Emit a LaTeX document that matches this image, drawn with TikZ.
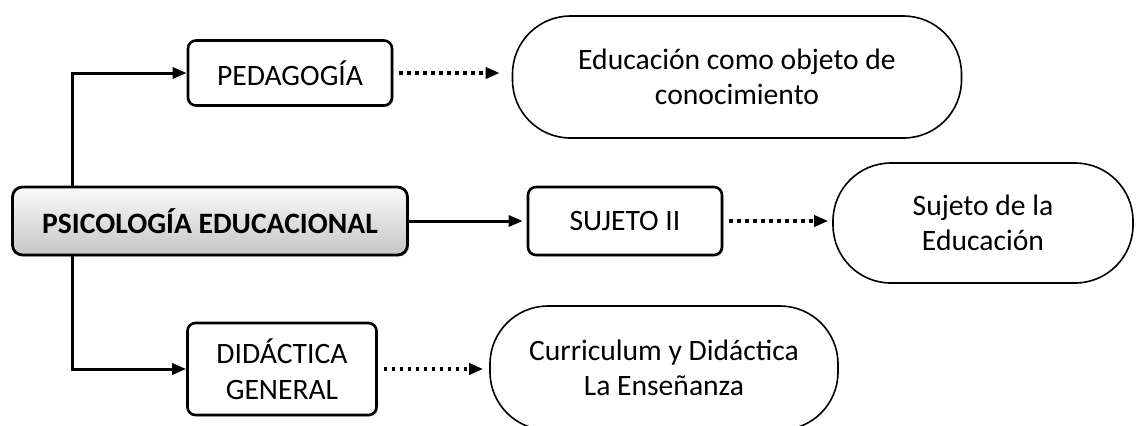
\documentclass[tikz,border=0pt]{standalone}
\usepackage{fontspec}
\setmainfont{Carlito}
\usetikzlibrary{arrows.meta,shadows}
\begin{document}
\begin{tikzpicture}[x=0.5pt,y=-0.5pt,
  font=\fontsize{14.8}{17.8}\selectfont,
  mainbox/.style = {shape=rectangle, rounded corners=5pt, draw, line width=1.4pt,
    align=center, top color=gray!4, bottom color=gray!45,
    drop shadow={opacity=0.45, shadow xshift=0.8pt, shadow yshift=-0.8pt}},
  subbox/.style = {shape=rectangle, rounded corners=4pt, draw, line width=1.3pt,
    align=center, fill=white,
    drop shadow={opacity=0.35, shadow xshift=0.8pt, shadow yshift=-0.8pt}},
  ovalbox/.style = {shape=rectangle, rounded corners=29pt, draw, line width=0.8pt,
    align=center, fill=white},
  link/.style = {line width=1.5pt, -{Triangle[length=7pt,width=5.5pt]}},
  dotlink/.style = {line width=1.9pt, dash pattern=on 1.7pt off 2.3pt,
    -{Triangle[length=7pt,width=5.5pt]}, shorten <=3pt, shorten >=3pt}
  ]
  \useasboundingbox (0,0) rectangle (1136,425);

  \node[mainbox, minimum width=197.5pt, minimum height=34pt] (psi) at (210,221)
    {\bfseries PSICOLOGÍA EDUCACIONAL};

  \node[subbox, minimum width=102pt, minimum height=32.5pt] (ped) at (290,73) {PEDAGOGÍA};
  \node[subbox, minimum width=97pt, minimum height=34pt] (suj) at (625,221) {SUJETO II};
  \node[subbox, minimum width=94.5pt, minimum height=46pt] (did) at (282,369)
    {DIDÁCTICA\\GENERAL};

  \node[ovalbox, minimum width=224.5pt, minimum height=61pt] (edu) at (737,77)
    {Educación como objeto de\\conocimiento};
  \node[ovalbox, minimum width=150pt, minimum height=60pt] (sde) at (983,223)
    {Sujeto de la\\Educación};
  \node[ovalbox, minimum width=174pt, minimum height=62pt] (cur) at (664,368)
    {Curriculum y Didáctica\\La Enseñanza};

  \coordinate (br) at (72,221);

  \draw[link] (psi.north -| br) |- (ped.west);
  \draw[link] (psi.south -| br) |- (did.west);
  \draw[link, shorten >=2pt] (psi.east) -- (suj.west);

  \draw[dotlink, shorten >=6pt] (ped.east) -- (ped.east -| edu.west);
  \draw[dotlink, shorten >=2pt] (suj.east) -- (suj.east -| sde.west);
  \draw[dotlink] (did.east) -- (did.east -| cur.west);
\end{tikzpicture}
\end{document}
